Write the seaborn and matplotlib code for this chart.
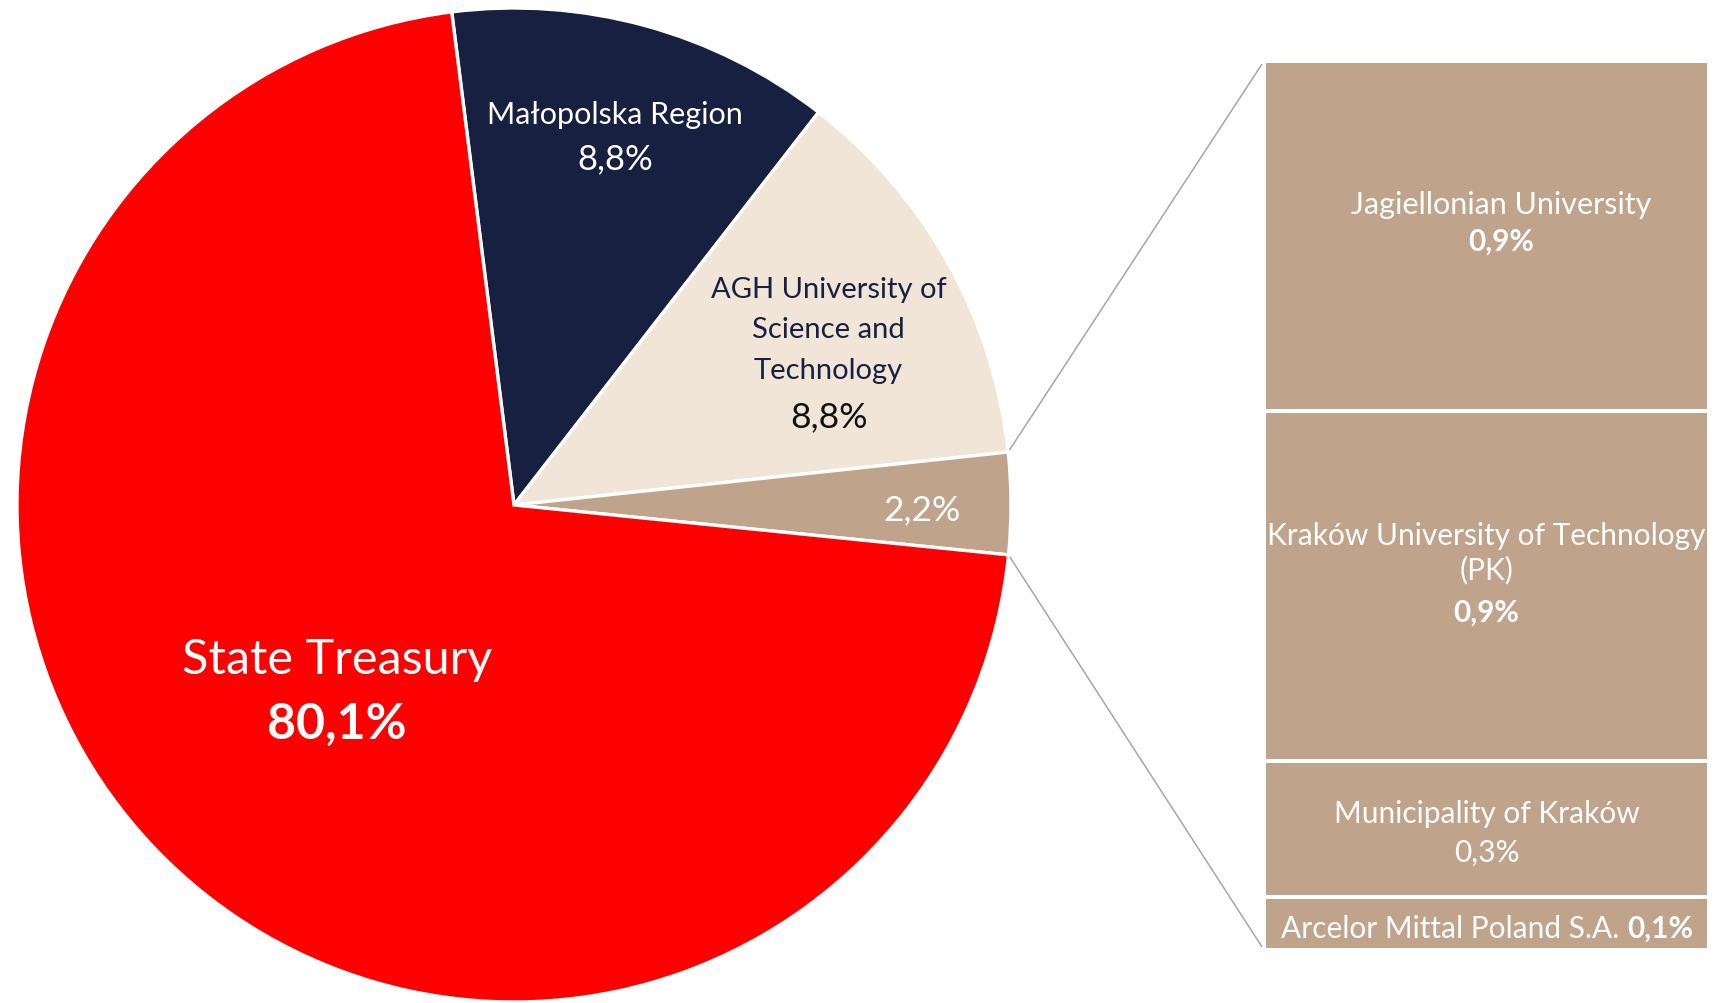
import numpy as np
import matplotlib.pyplot as plt
import seaborn as sns
from matplotlib.patches import ConnectionPatch

# ✅ Shareholders in the pie, clockwise from the top
holders = ["Małopolska Region", "AGH University of\nScience and\nTechnology", "", "State Treasury"]
holder_pct = ["8,8%", "8,8%", "2,2%", "80,1%"]
# slice sizes as drawn in the original (small stakes are drawn bigger)
slice_size = [12.5, 12.8, 3.3, 71.4]

# ✅ Breakdown of the 2,2% slice
others = ["Jagiellonian University", "Kraków University of Technology\n(PK)",
          "Municipality of Kraków", "Arcelor Mittal Poland S.A."]
others_pct = ["0,9%", "0,9%", "0,3%", "0,1%"]
# block heights as drawn
block_size = [0.9, 0.9, 0.35, 0.135]

RED, NAVY, CREAM, TAN = "#ff0000", "#172041", "#f1e5d8", "#bfa38b"

sns.set_theme(style="white")
plt.rcParams["font.family"] = ["Lato", "DejaVu Sans"]

W, H = 1714, 1004
fig = plt.figure(figsize=(W / 100, H / 100), dpi=100)
ax = fig.add_axes([0, 0, 1, 1])

# ✅ Pie
wedges, _ = ax.pie(slice_size, colors=[NAVY, CREAM, TAN, RED], startangle=97.2,
                   counterclock=False, center=(514, H - 506), radius=497,
                   wedgeprops=dict(edgecolor="white", linewidth=2.4))
ax.set_xlim(0, W)
ax.set_ylim(0, H)
ax.set_aspect("equal")
ax.axis("off")


def anchor(w, frac):
    a = np.deg2rad((w.theta1 + w.theta2) / 2)
    return (w.center[0] + frac * w.r * np.cos(a), w.center[1] + frac * w.r * np.sin(a))


def put(axis, text, xy, dx, dy, size, color="white", weight="normal", **kw):
    # offsets given in pixels
    return axis.annotate(text, xy, xytext=(dx * 0.72, dy * 0.72), textcoords="offset points",
                         ha=kw.pop("ha", "center"), va="center", fontsize=size,
                         color=color, fontweight=weight, **kw)


p = anchor(wedges[0], 0.77)
put(ax, holders[0], p, 0, 22, 22)
put(ax, holder_pct[0], p, 0, -22, 25)

p = anchor(wedges[1], 0.725)
put(ax, holders[1], p, 0, 0, 21, color=NAVY, linespacing=1.68)
put(ax, holder_pct[1], p, 0, -87, 25.5, color="#111111")

p = anchor(wedges[2], 0.82)
put(ax, holder_pct[2], p, 0, -6, 25.5)

p = anchor(wedges[3], 0.51)
put(ax, holders[3], p, 0, 27, 35)
put(ax, holder_pct[3], p, 0, -37, 36, weight="bold")

# ✅ Breakdown column
x0, x1, y_top, y_bot = 1266, 1707, 64, 949
bx = fig.add_axes([(x0 - 2) / W, (H - y_bot - 2) / H, (x1 - x0 + 4) / W, (y_bot - y_top + 4) / H])
sizes = np.array(block_size)
tops = np.cumsum(sizes[::-1])[::-1]
bottoms = tops - sizes
total = sizes.sum()
bx.bar(np.zeros(len(sizes)), sizes, bottom=bottoms, width=1, color=TAN,
       edgecolor="white", linewidth=2.9)
bx.set_xlim(-0.5, 0.5)
bx.set_ylim(0, total)
bx.axis("off")

mid = bottoms + sizes / 2
put(bx, others[0], (0, mid[0]), 15, 32, 22)
put(bx, others_pct[0], (0, mid[0]), 15, -5, 21.5, weight="bold")
put(bx, others[1], (0, mid[1]), 0, 34, 21.5, linespacing=1.25)
put(bx, others_pct[1], (0, mid[1]), 0, -25, 21.5, weight="bold")
put(bx, others[2], (0, mid[2]), 0, 16, 21.5)
put(bx, others_pct[2], (0, mid[2]), 0, -22, 21.5)
put(bx, others[3], (0, mid[3]), 133, -4, 21.5, ha="right")
put(bx, others_pct[3], (0, mid[3]), 141, -4, 21.5, weight="bold", ha="left")

# ✅ Connector lines from the small slice to the column
tw = wedges[2]
for ang, yb in [(tw.theta2, total), (tw.theta1, 0)]:
    a = np.deg2rad(ang)
    pa = (tw.center[0] + tw.r * np.cos(a), tw.center[1] + tw.r * np.sin(a))
    con = ConnectionPatch(xyA=pa, coordsA="data", axesA=ax, xyB=(-0.5, yb), coordsB="data",
                          axesB=bx, color="#a6a6a6", lw=1.1, shrinkA=2, shrinkB=3)
    fig.add_artist(con)

fig.savefig("out.png", dpi=100)
